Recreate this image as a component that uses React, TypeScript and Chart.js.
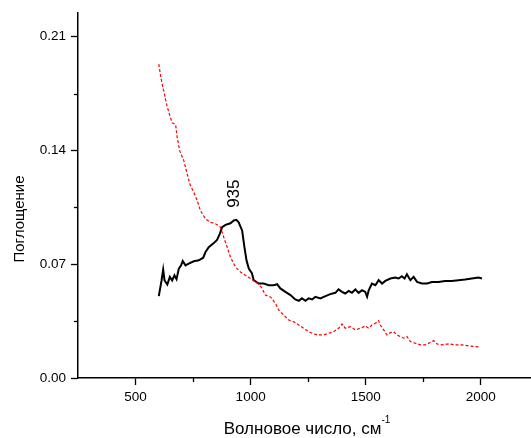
import React, { useEffect, useRef } from "react";
import { Chart, registerables } from "chart.js";

Chart.register(...registerables);

// Black solid spectrum (wavenumber, absorbance)
const blackX = [601, 613, 620, 626, 638, 649, 659, 669, 678, 688, 698, 705, 717, 731, 753, 775, 794, 804, 818, 840, 854, 866, 876, 891, 912, 927, 938, 948, 963, 973, 982, 992, 1006, 1013, 1035, 1057, 1079, 1100, 1115, 1129, 1151, 1173, 1194, 1209, 1223, 1238, 1252, 1267, 1281, 1303, 1325, 1346, 1368, 1382, 1397, 1411, 1426, 1440, 1455, 1469, 1484, 1498, 1506, 1513, 1527, 1542, 1556, 1571, 1585, 1607, 1628, 1643, 1657, 1669, 1679, 1694, 1708, 1723, 1744, 1766, 1788, 1816, 1845, 1874, 1903, 1932, 1961, 1990, 2005];
const blackY = [0.0504, 0.060, 0.0667, 0.060, 0.0575, 0.0622, 0.060, 0.0632, 0.0608, 0.0673, 0.0693, 0.072, 0.0693, 0.0704, 0.0718, 0.0724, 0.074, 0.0775, 0.0805, 0.083, 0.085, 0.0887, 0.0928, 0.0942, 0.0952, 0.0969, 0.0973, 0.0958, 0.0908, 0.0805, 0.0724, 0.0673, 0.0643, 0.0602, 0.0581, 0.0581, 0.0571, 0.0571, 0.0577, 0.0551, 0.053, 0.051, 0.0483, 0.0475, 0.049, 0.0475, 0.049, 0.0483, 0.0499, 0.049, 0.0504, 0.0516, 0.0524, 0.0545, 0.053, 0.052, 0.0536, 0.0524, 0.0545, 0.0524, 0.054, 0.053, 0.050, 0.054, 0.0581, 0.0571, 0.0602, 0.0581, 0.0597, 0.0612, 0.0618, 0.0612, 0.0626, 0.0612, 0.0638, 0.0602, 0.0622, 0.0591, 0.0581, 0.0581, 0.0591, 0.0591, 0.0597, 0.0597, 0.0602, 0.0606, 0.0612, 0.0618, 0.0612];

// Red dashed spectrum
const redX = [601, 608, 616, 626, 635, 645, 659, 674, 681, 692, 710, 721, 736, 753, 768, 782, 804, 826, 847, 869, 883, 898, 912, 934, 956, 977, 999, 1021, 1035, 1050, 1064, 1086, 1108, 1122, 1144, 1165, 1187, 1209, 1230, 1252, 1274, 1296, 1317, 1339, 1361, 1382, 1397, 1411, 1433, 1455, 1477, 1498, 1513, 1527, 1542, 1556, 1563, 1578, 1592, 1607, 1621, 1636, 1650, 1665, 1679, 1694, 1715, 1737, 1759, 1780, 1795, 1809, 1831, 1860, 1889, 1918, 1947, 1975, 1997];
const redY = [0.1931, 0.1867, 0.1805, 0.1744, 0.1683, 0.1632, 0.157, 0.156, 0.1479, 0.1397, 0.1336, 0.1275, 0.1193, 0.1142, 0.1091, 0.103, 0.0979, 0.0958, 0.0949, 0.0928, 0.0867, 0.0805, 0.0744, 0.0683, 0.0652, 0.0632, 0.0612, 0.0591, 0.0577, 0.0551, 0.051, 0.0499, 0.0459, 0.0418, 0.0387, 0.0357, 0.0346, 0.0326, 0.0306, 0.0285, 0.0271, 0.0265, 0.0265, 0.0275, 0.0285, 0.0306, 0.0332, 0.0306, 0.0316, 0.0296, 0.0306, 0.032, 0.0306, 0.0326, 0.0337, 0.0353, 0.0326, 0.0296, 0.0265, 0.0279, 0.0285, 0.0265, 0.0255, 0.0245, 0.0255, 0.0224, 0.0214, 0.0204, 0.0204, 0.0218, 0.023, 0.021, 0.0204, 0.021, 0.0204, 0.0204, 0.0198, 0.0193, 0.019];

const xMajorTicks = [500, 1000, 1500, 2000];
const xMinorTicks = [750, 1250, 1750];
const yMajorTicks = [0, 0.07, 0.14, 0.21];
const yMinorTicks = [0.035, 0.105, 0.175];

const xTitle = "Волновое число, см";
const xTitleSup = "-1";
const yTitle = "Поглощение";
const peakLabel = "935";
const peakX = 935;
const peakLabelY = 0.1134;

const FONT = "'Liberation Sans', Arial, sans-serif";

const customPlugin = {
  id: "custom",
  afterDraw(chart: any) {
    const { ctx, scales } = chart;
    const xs = scales.x;
    const ys = scales.y;
    ctx.save();
    ctx.strokeStyle = "#000";
    ctx.lineWidth = 1.3;
    // minor ticks
    for (const v of xMinorTicks) {
      const px = Math.round(xs.getPixelForValue(v)) + 0.5;
      ctx.beginPath();
      ctx.moveTo(px, ys.bottom);
      ctx.lineTo(px, ys.bottom + 4);
      ctx.stroke();
    }
    for (const v of yMinorTicks) {
      const py = Math.round(ys.getPixelForValue(v)) + 0.5;
      ctx.beginPath();
      ctx.moveTo(xs.left, py);
      ctx.lineTo(xs.left - 4, py);
      ctx.stroke();
    }
    // peak annotation
    ctx.fillStyle = "#000";
    ctx.font = `17px ${FONT}`;
    ctx.translate(xs.getPixelForValue(peakX) - 1, ys.getPixelForValue(peakLabelY));
    ctx.rotate(-Math.PI / 2);
    ctx.textAlign = "center";
    ctx.textBaseline = "middle";
    ctx.fillText(peakLabel, 0, 0);
    ctx.restore();

    // axis titles
    ctx.save();
    ctx.fillStyle = "#000";
    ctx.font = `17px ${FONT}`;
    const mainW = ctx.measureText(xTitle).width;
    ctx.font = `10px ${FONT}`;
    const supW = ctx.measureText(xTitleSup).width;
    const total = mainW + supW;
    const cx = 307;
    const startX = cx - total / 2;
    ctx.textBaseline = "alphabetic";
    ctx.textAlign = "left";
    ctx.font = `17px ${FONT}`;
    ctx.fillText(xTitle, startX, 434);
    ctx.font = `10px ${FONT}`;
    ctx.fillText(xTitleSup, startX + mainW, 423);

    ctx.font = `15px ${FONT}`;
    ctx.translate(20, 219);
    ctx.rotate(-Math.PI / 2);
    ctx.textAlign = "center";
    ctx.textBaseline = "middle";
    ctx.fillText(yTitle, 0, 0);
    ctx.restore();
  },
};

export default function App() {
  const ref = useRef<HTMLCanvasElement | null>(null);
  useEffect(() => {
    if (!ref.current) return;
    const chart = new Chart(ref.current, {
      type: "line",
      data: {
        datasets: [
          {
            data: redX.map((x, i) => ({ x, y: redY[i] })),
            borderColor: "#ff0000",
            borderWidth: 1.2,
            borderDash: [3, 2],
            pointRadius: 0,
            fill: false,
            tension: 0,
          },
          {
            data: blackX.map((x, i) => ({ x, y: blackY[i] })),
            borderColor: "#000000",
            borderWidth: 2,
            pointRadius: 0,
            fill: false,
            tension: 0,
          },
        ],
      },
      options: {
        animation: false,
        responsive: false,
        maintainAspectRatio: false,
        layout: { padding: { top: 12, right: 0, left: 0, bottom: 0 } },
        plugins: {
          legend: { display: false },
          tooltip: { enabled: false },
        },
        scales: {
          x: {
            type: "linear",
            min: 250,
            max: 2218,
            afterBuildTicks: (s: any) => {
              s.ticks = xMajorTicks.map((v) => ({ value: v }));
            },
            afterFit: (s: any) => {
              s.height = 60;
            },
            ticks: {
              color: "#000",
              font: { family: FONT, size: 13.5 },
              padding: 4,
              maxRotation: 0,
              callback: (v: any) => String(v),
            },
            grid: {
              display: true,
              drawOnChartArea: false,
              drawTicks: true,
              tickLength: 7,
              tickColor: "#000",
              tickWidth: 1.3,
            },
            border: { display: true, color: "#000", width: 1.5 },
          },
          y: {
            type: "linear",
            min: 0,
            max: 0.2245,
            afterBuildTicks: (s: any) => {
              s.ticks = yMajorTicks.map((v) => ({ value: v }));
            },
            afterFit: (s: any) => {
              s.width = 78;
            },
            ticks: {
              color: "#000",
              font: { family: FONT, size: 13.5 },
              padding: 5,
              callback: (v: any) => Number(v).toFixed(2),
            },
            grid: {
              display: true,
              drawOnChartArea: false,
              drawTicks: true,
              tickLength: 7,
              tickColor: "#000",
              tickWidth: 1.3,
            },
            border: { display: true, color: "#000", width: 1.5 },
          },
        },
      },
      plugins: [customPlugin],
    });
    return () => chart.destroy();
  }, []);
  return (
    <div style={{ position: "fixed", left: 0, top: 0, width: 531, height: 438, background: "#fff" }}>
      <canvas ref={ref} width={531} height={438} style={{ display: "block", width: 531, height: 438 }} />
    </div>
  );
}
